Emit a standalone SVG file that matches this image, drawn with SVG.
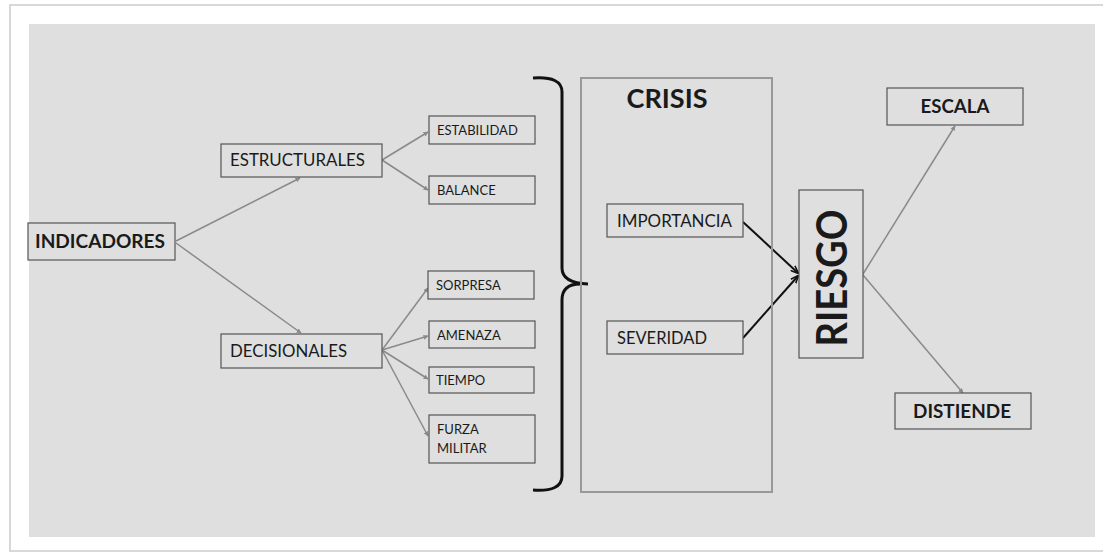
<svg xmlns="http://www.w3.org/2000/svg" width="1103" height="553" viewBox="0 0 1103 553">
<style>
.n{fill:#dfdfdf;stroke:#555;stroke-width:1.2}
.t{font-family:Lato,"Liberation Sans",sans-serif;fill:#1a1a1a}
.s{font-size:13px}
.m{font-size:17px}
.l{font-size:17px}
.b{font-weight:bold}
.c{stroke:#8a8a8a;stroke-width:1.5;fill:none;marker-end:url(#ag)}
.k{stroke:#111;stroke-width:2;fill:none;marker-end:url(#ak)}
</style>
<defs>
<marker id="ag" viewBox="0 0 10 10" refX="9" refY="5" markerWidth="5" markerHeight="5" orient="auto" markerUnits="userSpaceOnUse"><path d="M0,0L10,5L0,10z" fill="#8a8a8a"/></marker>
<marker id="ak" viewBox="0 0 10 10" refX="9" refY="5" markerWidth="8" markerHeight="8" orient="auto" markerUnits="userSpaceOnUse"><path d="M0,1L10,5L0,9" fill="none" stroke="#111" stroke-width="2"/></marker>
</defs>
<rect x="0" y="0" width="1103" height="553" fill="#fff"/>
<rect x="10" y="5" width="1100" height="546" fill="#fff" stroke="#ccc" stroke-width="1.5"/>
<rect x="29" y="24" width="1066" height="513" fill="#dfdfdf"/>

<g id="connectors">
<path class="c" d="M176,241L300,178"/>
<path class="c" d="M176,243L301,333"/>
<path class="c" d="M382,160L428,132"/>
<path class="c" d="M382,160L428,190"/>
<path class="c" d="M382,350L428,288"/>
<path class="c" d="M382,350L428,336"/>
<path class="c" d="M382,350L428,379"/>
<path class="c" d="M382,350L428,436"/>
<path class="k" d="M743,222L798,273"/>
<path class="k" d="M743,338L798,276"/>
<path class="c" d="M863,274L955,126"/>
<path class="c" d="M863,275L963,393"/>
</g>

<g id="brace">
<path d="M533,78Q562,76 562,92L562,268Q562,283 588,284M562,300Q562,284 580,284M562,300L562,476Q562,492 533,490" fill="none" stroke="#111" stroke-width="3"/>
</g>

<g id="crisis">
<rect x="581" y="78" width="191" height="414" fill="none" stroke="#999" stroke-width="2"/>
<text class="t b" x="667" y="108" font-size="26" text-anchor="middle" textLength="81" lengthAdjust="spacingAndGlyphs">CRISIS</text>
</g>

<g id="indicadores"><rect class="n" x="28" y="223" width="147" height="37"/><text class="t b" x="35" y="248" font-size="19" textLength="130" lengthAdjust="spacingAndGlyphs">INDICADORES</text></g>
<g id="estructurales"><rect class="n" x="221" y="144" width="161" height="33"/><text class="t m" x="230" y="166" textLength="135" lengthAdjust="spacingAndGlyphs">ESTRUCTURALES</text></g>
<g id="decisionales"><rect class="n" x="221" y="334" width="161" height="34"/><text class="t m" x="230" y="357" textLength="117" lengthAdjust="spacingAndGlyphs">DECISIONALES</text></g>
<g id="estabilidad"><rect class="n" x="429" y="116" width="106" height="28"/><text class="t s" x="437" y="135">ESTABILIDAD</text></g>
<g id="balance"><rect class="n" x="429" y="176" width="106" height="28"/><text class="t s" x="437" y="195">BALANCE</text></g>
<g id="sorpresa"><rect class="n" x="428" y="271" width="106" height="28"/><text class="t s" x="436" y="290">SORPRESA</text></g>
<g id="amenaza"><rect class="n" x="429" y="321" width="106" height="27"/><text class="t s" x="437" y="340">AMENAZA</text></g>
<g id="tiempo"><rect class="n" x="429" y="367" width="105" height="26"/><text class="t s" x="436" y="385">TIEMPO</text></g>
<g id="furza"><rect class="n" x="429" y="415" width="106" height="48"/><text class="t s" x="437" y="434">FURZA</text><text class="t s" x="437" y="453">MILITAR</text></g>
<g id="importancia"><rect class="n" x="607" y="204" width="136" height="33"/><text class="t l" x="617" y="227" textLength="115" lengthAdjust="spacingAndGlyphs">IMPORTANCIA</text></g>
<g id="severidad"><rect class="n" x="607" y="321" width="136" height="33"/><text class="t l" x="617" y="344" textLength="90" lengthAdjust="spacingAndGlyphs">SEVERIDAD</text></g>
<g id="riesgo"><rect class="n" x="799" y="190" width="64" height="168"/><text class="t b" transform="translate(847,278) rotate(-90)" font-size="42" text-anchor="middle" textLength="137" lengthAdjust="spacingAndGlyphs">RIESGO</text></g>
<g id="escala"><rect class="n" x="887" y="88" width="136" height="37"/><text class="t b" x="955" y="113" font-size="18" text-anchor="middle" textLength="69" lengthAdjust="spacingAndGlyphs">ESCALA</text></g>
<g id="distiende"><rect class="n" x="895" y="393" width="136" height="36"/><text class="t b" x="962" y="418" font-size="18" text-anchor="middle" textLength="98" lengthAdjust="spacingAndGlyphs">DISTIENDE</text></g>
</svg>
